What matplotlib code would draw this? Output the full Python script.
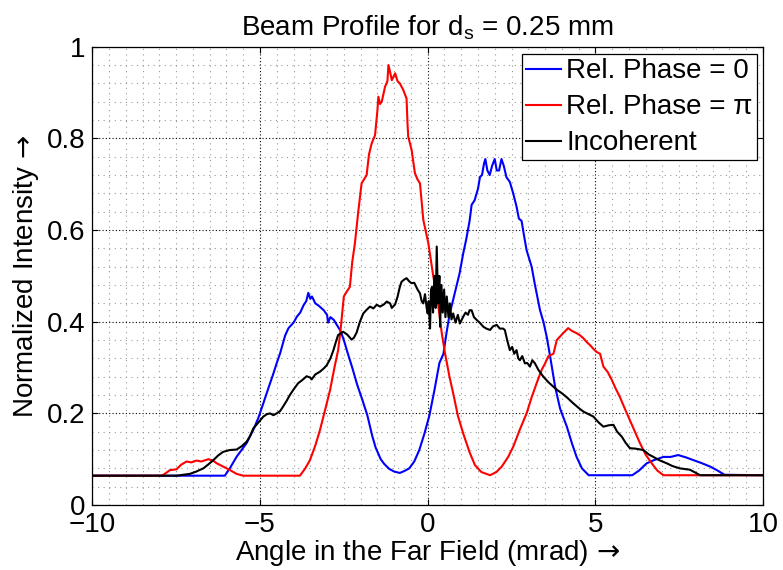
import numpy as np
import matplotlib
matplotlib.use('Agg')
import matplotlib.pyplot as plt
from matplotlib.ticker import MultipleLocator

# Rel. Phase = 0 (blue)
x_phase0 = [-10, -6.05, -5.9, -5.7, -5.55, -5.4, -5.2, -5.05, -4.9, -4.75, -4.6, -4.5, -4.4, -4.25, -4.15,
            -4.0, -3.9, -3.8, -3.7, -3.62, -3.56, -3.5, -3.45, -3.35, -3.25, -3.1, -3.0, -2.97, -2.9, -2.8,
            -2.7, -2.6, -2.5, -2.4, -2.25, -2.1, -1.95, -1.8, -1.65, -1.55, -1.4, -1.3, -1.15, -1.0, -0.83,
            -0.7, -0.55, -0.4, -0.25, -0.1, 0.05, 0.2, 0.35, 0.47, 0.55, 0.65, 0.8, 0.95, 1.06, 1.15, 1.25,
            1.31, 1.4, 1.5, 1.56, 1.62, 1.68, 1.72, 1.78, 1.85, 1.92, 2.0, 2.06, 2.13, 2.2, 2.27, 2.35, 2.45,
            2.55, 2.65, 2.72, 2.8, 2.88, 2.95, 3.1, 3.2, 3.35, 3.45, 3.55, 3.65, 3.8, 3.95, 4.15, 4.3, 4.44,
            4.6, 4.8, 6.1, 6.3, 6.53, 6.75, 7.03, 7.25, 7.47, 7.7, 7.92, 8.15, 8.42, 8.65, 8.85, 10]
y_phase0 = [0.064, 0.064, 0.08, 0.105, 0.12, 0.135, 0.164, 0.19, 0.222, 0.255, 0.287, 0.31, 0.331, 0.37, 0.386,
            0.398, 0.411, 0.42, 0.436, 0.445, 0.463, 0.45, 0.455, 0.44, 0.435, 0.425, 0.415, 0.398, 0.41, 0.404,
            0.392, 0.38, 0.36, 0.335, 0.3, 0.262, 0.23, 0.196, 0.15, 0.125, 0.1, 0.09, 0.079, 0.073, 0.07,
            0.074, 0.08, 0.095, 0.12, 0.155, 0.195, 0.25, 0.31, 0.33, 0.37, 0.415, 0.46, 0.505, 0.549, 0.58, 0.62,
            0.655, 0.665, 0.69, 0.716, 0.72, 0.745, 0.755, 0.73, 0.72, 0.74, 0.755, 0.73, 0.73, 0.755, 0.74, 0.715, 0.705,
            0.68, 0.651, 0.625, 0.62, 0.585, 0.556, 0.52, 0.48, 0.425, 0.4, 0.367, 0.325, 0.258, 0.21, 0.171, 0.135, 0.105,
            0.08, 0.065, 0.065, 0.075, 0.091, 0.098, 0.105, 0.105, 0.109, 0.104, 0.098, 0.092, 0.084, 0.075, 0.066, 0.065]

# Rel. Phase = pi (red)
x_phasepi = [-10, -7.93, -7.8, -7.69, -7.49, -7.35, -7.19, -7.05, -6.89, -6.75, -6.54, -6.4, -6.29, -6.1, -5.89,
             -5.7, -5.5, -3.81, -3.65, -3.51, -3.35, -3.21, -3.05, -2.91, -2.78, -2.67, -2.6, -2.5, -2.42, -2.32,
             -2.25, -2.17, -2.07, -1.97, -1.82, -1.75, -1.67, -1.57, -1.5, -1.47, -1.42, -1.37, -1.27, -1.2, -1.17,
             -1.12, -1.07, -0.97, -0.9, -0.83, -0.73, -0.63, -0.6, -0.58, -0.48, -0.38, -0.3, -0.23, -0.13, 0.02,
             0.17, 0.27, 0.32, 0.42, 0.52, 0.65, 0.76, 0.9, 1.06, 1.25, 1.41, 1.6, 1.86, 2.05, 2.21, 2.4, 2.55,
             2.75, 2.95, 3.1, 3.25, 3.4, 3.5, 3.6, 3.75, 3.85, 4.04, 4.19, 4.3, 4.44, 4.55, 4.64, 4.75, 4.84, 4.95,
             5.04, 5.14, 5.24, 5.37, 5.49, 5.6, 5.73, 5.88, 6.03, 6.18, 6.33, 6.5, 6.68, 6.85, 7.03, 10]
y_phasepi = [0.064, 0.064, 0.07, 0.076, 0.078, 0.088, 0.095, 0.093, 0.097, 0.095, 0.1, 0.097, 0.091, 0.084, 0.076,
             0.068, 0.064, 0.064, 0.08, 0.098, 0.13, 0.164, 0.21, 0.251, 0.3, 0.338, 0.38, 0.455, 0.465, 0.476,
             0.53, 0.571, 0.64, 0.702, 0.72, 0.765, 0.789, 0.807, 0.86, 0.891, 0.875, 0.88, 0.913, 0.925, 0.96,
             0.945, 0.927, 0.942, 0.925, 0.92, 0.906, 0.887, 0.83, 0.804, 0.775, 0.724, 0.71, 0.702, 0.622, 0.571,
             0.498, 0.46, 0.433, 0.375, 0.33, 0.28, 0.244, 0.195, 0.156, 0.115, 0.087, 0.072, 0.065, 0.072, 0.084, 0.105, 0.127,
             0.165, 0.2, 0.235, 0.266, 0.295, 0.309, 0.325, 0.33, 0.36, 0.375, 0.386, 0.38, 0.375, 0.37, 0.364, 0.355, 0.349, 0.34,
             0.334, 0.33, 0.302, 0.29, 0.273, 0.255, 0.236, 0.21, 0.185, 0.16, 0.135, 0.11, 0.091, 0.075, 0.065, 0.065]

# Incoherent (black)
x_incoh = [-10, -7.49, -7.3, -7.09, -6.9, -6.69, -6.55, -6.39, -6.25, -6.1, -5.9, -5.7, -5.55, -5.4, -5.3, -5.2,
           -5.05, -4.9, -4.8, -4.7, -4.6, -4.5, -4.4, -4.31, -4.2, -4.11, -4.0, -3.86, -3.75, -3.61, -3.5, -3.46,
           -3.35, -3.21, -3.1, -3.01, -2.9, -2.81, -2.72, -2.67, -2.52, -2.4, -2.27, -2.2, -2.12, -2.02, -1.92,
           -1.82, -1.72, -1.62, -1.52, -1.42, -1.3, -1.22, -1.12, -1.07, -0.97, -0.9, -0.83, -0.78, -0.7, -0.63,
           -0.55, -0.48, -0.4, -0.3, -0.23, -0.18, -0.13, -0.08, -0.03, 0.0, 0.03, 0.07, 0.1, 0.13, 0.16, 0.2,
           0.24, 0.27, 0.31, 0.35, 0.37, 0.41, 0.45, 0.49, 0.53, 0.57, 0.62, 0.66, 0.71, 0.76, 0.83, 0.9, 0.96,
           1.02, 1.06, 1.13, 1.2, 1.25, 1.31, 1.38, 1.46, 1.55, 1.66, 1.75, 1.86, 1.95, 2.06, 2.15, 2.25, 2.3,
           2.37, 2.45, 2.52, 2.58, 2.65, 2.7, 2.75, 2.82, 2.9, 2.97, 3.05, 3.12, 3.2, 3.3, 3.45, 3.6, 3.75, 3.88,
           4.0, 4.15, 4.34, 4.5, 4.64, 4.8, 4.94, 5.1, 5.24, 5.4, 5.54, 5.65, 5.79, 5.9, 6.03, 6.2, 6.43, 6.6,
           6.73, 6.9, 7.13, 7.3, 7.52, 7.82, 8.0, 8.12, 10]
y_incoh = [0.064, 0.064, 0.066, 0.068, 0.073, 0.08, 0.088, 0.098, 0.108, 0.116, 0.12, 0.121, 0.128, 0.138, 0.15, 0.167,
           0.18, 0.193, 0.198, 0.2, 0.196, 0.2, 0.205, 0.215, 0.228, 0.24, 0.252, 0.266, 0.272, 0.281, 0.278, 0.274,
           0.285, 0.291, 0.298, 0.305, 0.32, 0.338, 0.36, 0.371, 0.378, 0.372, 0.361, 0.365, 0.376, 0.4, 0.418,
           0.426, 0.433, 0.429, 0.437, 0.433, 0.438, 0.444, 0.44, 0.43, 0.438, 0.454, 0.476, 0.487, 0.492, 0.495,
           0.488, 0.484, 0.485, 0.47, 0.462, 0.445, 0.44, 0.46, 0.43, 0.418, 0.445, 0.385, 0.47, 0.476, 0.42, 0.5,
           0.43, 0.564, 0.44, 0.5, 0.389, 0.48, 0.42, 0.47, 0.41, 0.455, 0.41, 0.44, 0.405, 0.418, 0.398, 0.415, 0.396,
           0.405, 0.411, 0.42, 0.415, 0.425, 0.425, 0.41, 0.404, 0.398, 0.389, 0.385, 0.382, 0.39, 0.393, 0.385, 0.385, 0.382,
           0.36, 0.338, 0.345, 0.33, 0.338, 0.32, 0.316, 0.325, 0.309, 0.31, 0.302, 0.316, 0.309, 0.295, 0.28, 0.268, 0.258, 0.25,
           0.244, 0.235, 0.222, 0.212, 0.204, 0.198, 0.193, 0.18, 0.171, 0.174, 0.175, 0.16, 0.149, 0.136, 0.124, 0.123, 0.12, 0.11,
           0.105, 0.098, 0.091, 0.085, 0.08, 0.077, 0.07, 0.065, 0.065]

labels = ['Rel. Phase = 0', 'Rel. Phase = \u03c0', 'Incoherent']
colors = ['#0000ff', '#ff0000', 'k']

plt.rcParams['font.family'] = ['Liberation Sans', 'DejaVu Sans']
plt.rcParams['mathtext.fontset'] = 'custom'
plt.rcParams['mathtext.rm'] = 'Liberation Sans'
plt.rcParams['mathtext.it'] = 'Liberation Sans'
plt.rcParams['mathtext.sf'] = 'DejaVu Sans'

fs = 20

fig = plt.figure(figsize=(7.83, 5.70), dpi=100)
ax = fig.add_axes([0.1179, 0.114, 0.8566, 0.804])

for xs, ys, c, lab in zip([x_phase0, x_phasepi, x_incoh], [y_phase0, y_phasepi, y_incoh], colors, labels):
    ax.plot(xs, ys, color=c, lw=1.5, label=lab)

ax.set_xlim(-10, 10)
ax.set_ylim(0, 1)
ax.xaxis.set_major_locator(MultipleLocator(5))
ax.xaxis.set_minor_locator(MultipleLocator(0.5))
ax.yaxis.set_minor_locator(MultipleLocator(0.04))
ax.set_yticks([0, 0.2, 0.4, 0.6, 0.8, 1])
ax.set_yticklabels(['0', '0.2', '0.4', '0.6', '0.8', '1'])

ax.set_axisbelow(True)
ax.grid(True, which='major', color='k', linestyle=(0, (1, 2)), lw=0.8)
ax.grid(True, which='minor', color='0.6', linestyle=(0, (1, 4)), lw=0.8)

ax.tick_params(which='major', direction='in', length=4.5, width=0.8, top=True, right=True,
               labelsize=fs, pad=5)
ax.tick_params(which='minor', length=0)
for s in ax.spines.values():
    s.set_linewidth(0.9)

arrow = '$\\,\\mathsf{\\rightarrow}$'
ax.set_title('Beam Profile for d$_{\\mathrm{s}}$ = 0.25 mm', fontsize=fs, pad=8)
ax.set_xlabel('Angle in the Far Field (mrad)' + arrow, fontsize=fs, labelpad=0)
ax.set_ylabel('Normalized Intensity' + arrow, fontsize=fs, labelpad=4)

leg = ax.legend(loc='upper right', bbox_to_anchor=(0.991, 0.984), fontsize=fs, fancybox=False,
                framealpha=1, edgecolor='k', borderaxespad=0, borderpad=0.15, handlelength=1.25,
                handletextpad=0.2, labelspacing=0.36)
leg.get_frame().set_linewidth(0.9)

fig.savefig('out.png', dpi=100)
